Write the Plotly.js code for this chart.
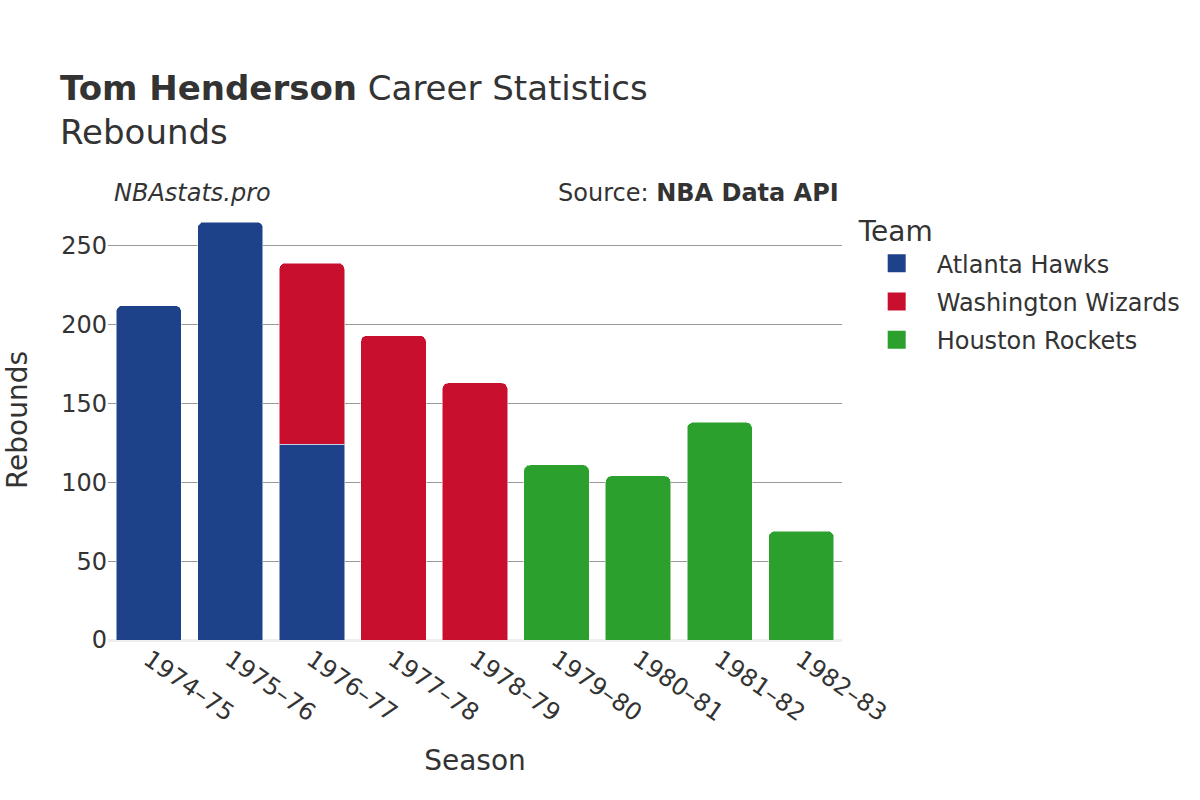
<!DOCTYPE html>
<html>
<head>
<meta charset="utf-8">
<script src="https://cdn.plot.ly/plotly-3.0.1.min.js"></script>
<style>
  html, body { margin: 0; padding: 0; background: #fff; }
  #plot { width: 1200px; height: 800px; }
</style>
</head>
<body>
<div id="plot"></div>
<script>
// seasons on the x axis
const seasons = ["1974–75", "1975–76", "1976–77", "1977–78", "1978–79",
                 "1979–80", "1980–81", "1981–82", "1982–83"];

// rebounds per team, null where he did not play for that team
const hawks    = [212, 265, 124, null, null, null, null, null, null];
const wizards  = [null, null, 115, 193, 163, null, null, null, null];
const rockets  = [null, null, null, null, null, 111, 104, 138, 69];

const teams  = ["Atlanta Hawks", "Washington Wizards", "Houston Rockets"];
const colors = ["#1d428a", "#c8102e", "#2ca02c"];

const font = "DejaVu Sans, sans-serif";

function barTrace(name, vals, color) {
  return {
    type: "bar",
    name: name,
    legendgroup: name,
    showlegend: false,
    x: seasons,
    y: vals,
    marker: { color: color, line: { color: "rgba(255,255,255,0.5)", width: 1 } },
    hovertemplate: "%{x}: %{y}<extra>" + name + "</extra>"
  };
}

// legend-only entries so the swatches come out as big squares
function legendTrace(name, color) {
  return {
    type: "scatter",
    mode: "markers",
    name: name,
    legendgroup: name,
    x: [null],
    y: [null],
    marker: { symbol: "square", size: 20, color: color,
              line: { color: color, width: 2 } },
    hoverinfo: "skip"
  };
}

const traces = [
  barTrace(teams[0], hawks, colors[0]),
  barTrace(teams[1], wizards, colors[1]),
  barTrace(teams[2], rockets, colors[2]),
  legendTrace(teams[0], colors[0]),
  legendTrace(teams[1], colors[1]),
  legendTrace(teams[2], colors[2])
];

const layout = {
  width: 1200,
  height: 800,
  barmode: "stack",
  bargap: 0.2,
  barcornerradius: 6,
  paper_bgcolor: "#fff",
  plot_bgcolor: "#fff",
  font: { family: font, color: "#333", size: 24 },
  margin: { l: 108, r: 358, t: 200, b: 160 },
  title: {
    text: "<b>Tom Henderson</b> Career Statistics<br>Rebounds",
    x: 0.05, xanchor: "left",
    y: 0.875, yanchor: "top",
    font: { family: font, size: 34, color: "#333" }
  },
  xaxis: {
    title: { text: "Season", font: { size: 28 }, standoff: 24 },
    tickangle: 35,
    tickfont: { size: 24 },
    showgrid: false,
    zeroline: false
  },
  yaxis: {
    title: { text: "Rebounds", font: { size: 28 }, standoff: 25 },
    tickfont: { size: 24 },
    gridcolor: "#999",
    zeroline: true,
    zerolinecolor: "#eee",
    zerolinewidth: 3,
    range: [0, 279],
    dtick: 50
  },
  legend: {
    title: { text: "Team", font: { size: 28 } },
    font: { size: 24 },
    traceorder: "grouped",
    x: 1.02, xanchor: "left",
    y: 0.989, yanchor: "top",
    itemsizing: "trace",
    itemwidth: 70,
    tracegroupgap: 4
  },
  annotations: [
    {
      text: "<i>NBAstats.pro</i>",
      xref: "paper", yref: "paper",
      x: 0.005, y: 1.0, xanchor: "left", yanchor: "bottom",
      yshift: -9,
      showarrow: false, font: { size: 24 }
    },
    {
      text: "Source: <b>NBA Data API</b>",
      xref: "paper", yref: "paper",
      x: 0.998, y: 1.0, xanchor: "right", yanchor: "bottom",
      yshift: -9,
      showarrow: false, font: { size: 24 }
    }
  ]
};

Plotly.newPlot("plot", traces, layout, { displayModeBar: false });
</script>
</body>
</html>
